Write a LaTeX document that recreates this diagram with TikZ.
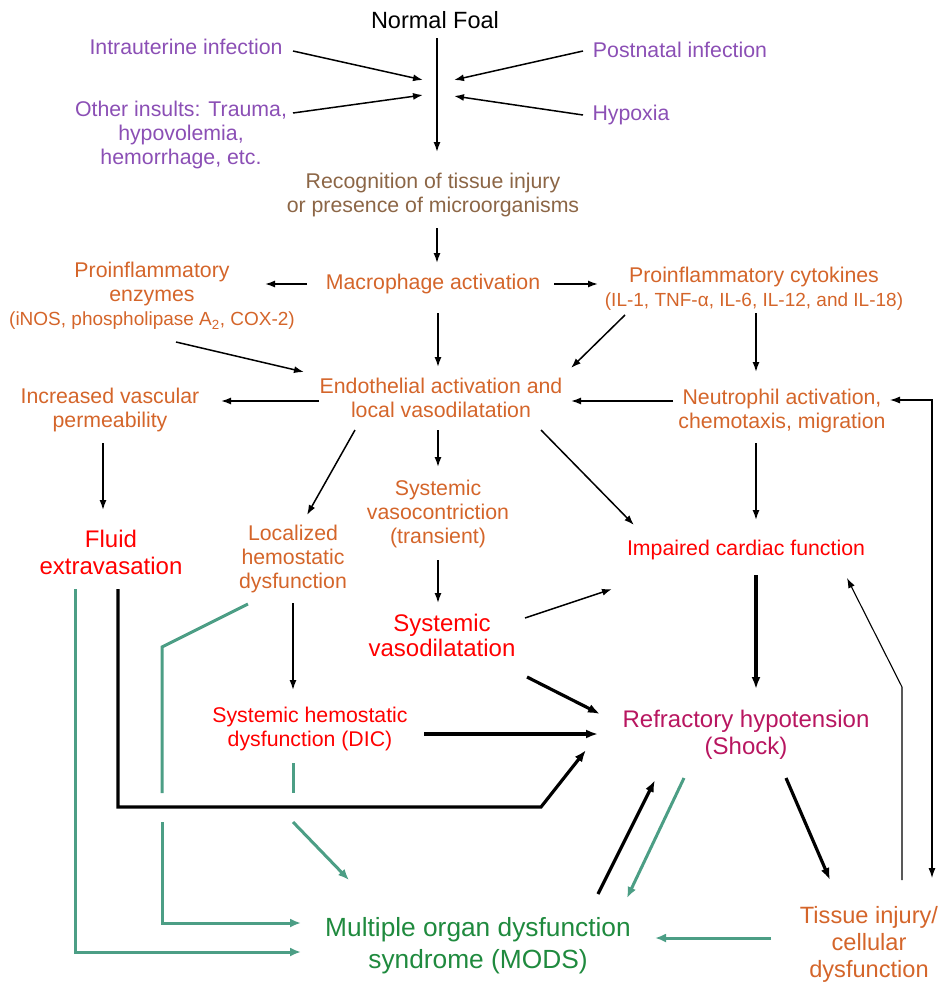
\documentclass[tikz,border=0pt]{standalone}
\usepackage{fontspec}
\setmainfont{Liberation Sans}
\usetikzlibrary{arrows.meta,calc}
\definecolor{cpurple}{HTML}{8B4FB5}
\definecolor{cbrown}{HTML}{8C6646}
\definecolor{corange}{HTML}{D4652A}
\definecolor{cred}{HTML}{FF0000}
\definecolor{ccrim}{HTML}{B81660}
\definecolor{cgtext}{HTML}{1F8A3E}
\definecolor{cgline}{HTML}{4C9E85}
\tikzset{
  txt/.style={align=center, inner sep=0pt, font=\fontsize{21.3}{24}\selectfont},
  bigtxt/.style={align=center, inner sep=0pt, font=\fontsize{24}{26.5}\selectfont},
  arr/.style={draw=black, line width=1.5pt, -{Latex[length=10pt,width=7pt]}},
  tarr/.style={draw=black, line width=3.2pt, -{Latex[length=12pt,width=9pt]}},
  slim/.style={draw=black, line width=1.1pt, -{Latex[length=10pt,width=7pt]}},
  garr/.style={draw=cgline, line width=3pt, -{Latex[length=11pt,width=9pt]}},
  gline/.style={draw=cgline, line width=3pt},
}
\begin{document}
\begin{tikzpicture}[x=1pt,y=-1pt]
\useasboundingbox (0,0) rectangle (943,983);
% nodes
\node[txt, font=\fontsize{23.5}{26}\selectfont] (nf) at (435,20) {Normal Foal};
\node[txt, text=cpurple] (intra) at (186,47) {Intrauterine infection};
\node[txt, text=cpurple] (post) at (680,50) {Postnatal infection};
\node[txt, text=cpurple] (other) at (181,135) {Other insults: Trauma,\\hypovolemia,\\hemorrhage, etc.};
\node[txt, text=cpurple] (hyp) at (631,115) {Hypoxia};
\node[txt, text=cbrown] (rec) at (433,195) {Recognition of tissue injury\\or presence of microorganisms};
\node[txt, text=corange] (mac) at (433,284) {Macrophage activation};
\node[txt, text=corange] (enz) at (152,296) {Proinflammatory\\enzymes\\{\fontsize{19}{24}\selectfont (iNOS, phospholipase A\textsubscript{2}, COX-2)}};
\node[txt, text=corange] (cyt) at (754,289) {Proinflammatory cytokines\\{\fontsize{19}{24}\selectfont (IL-1, TNF-α, IL-6, IL-12, and IL-18)}};
\node[txt, text=corange] (endo) at (441,398) {Endothelial activation and\\local vasodilatation};
\node[txt, text=corange] (ivp) at (110,410) {Increased vascular\\permeability};
\node[txt, text=corange] (neu) at (782,411) {Neutrophil activation,\\chemotaxis, migration};
\node[bigtxt, text=cred, font=\fontsize{24}{27}\selectfont] (fluid) at (111,552) {Fluid\\extravasation};
\node[txt, text=corange] (loc) at (293,559) {Localized\\hemostatic\\dysfunction};
\node[txt, text=corange] (svc) at (438,514) {Systemic\\vasocontriction\\(transient)};
\node[bigtxt, text=cred, font=\fontsize{24}{25}\selectfont] (svd) at (442,635) {Systemic\\vasodilatation};
\node[txt, text=cred] (icf) at (746,550) {Impaired cardiac function};
\node[txt, text=cred] (dic) at (310,729) {Systemic hemostatic\\dysfunction (DIC)};
\node[bigtxt, text=ccrim] (ref) at (746,735) {Refractory hypotension\\(Shock)};
\node[bigtxt, text=cgtext, font=\fontsize{26.3}{32}\selectfont] (mods) at (478,946) {Multiple organ dysfunction\\syndrome (MODS)};
\node[bigtxt, text=corange, font=\fontsize{23.6}{27}\selectfont] (tis) at (869,944) {Tissue injury/\\cellular\\dysfunction};
% junction coordinates on the main vertical line
\coordinate (ja) at (423,80);
\coordinate (jb) at (454,80);
\coordinate (jc) at (423,95);
\coordinate (jd) at (454,96);
\coordinate (k1) at (541,807);
\coordinate (k2) at (902,687);
\coordinate (g1) at (162,647);
\coordinate (g2) at (162,793);
\coordinate (g3) at (162,822);
\coordinate (g4) at (293,793);
\coordinate (g5) at (293,822);
% connectors
\draw[arr] ([shift={(2,18)}]nf.center) -- ([shift={(4,-43)}]rec.center);
\draw[arr] ([shift={(107,4)}]intra.center) -- (ja);
\draw[arr] ([shift={(-97,1)}]post.center) -- (jb);
\draw[arr] ([shift={(112,-22)}]other.center) -- (jc);
\draw[arr] ([shift={(-48,0)}]hyp.center) -- (jd);
\draw[arr] ([shift={(4,33)}]rec.center) -- ([shift={(4,-21)}]mac.center);
\draw[arr] ([shift={(-126,0)}]mac.center) -- ([shift={(113,-12)}]enz.center);
\draw[arr] ([shift={(121,0)}]mac.center) -- ([shift={(-156,-5)}]cyt.center);
\draw[arr] ([shift={(5,29)}]mac.center) -- ([shift={(-3,-31)}]endo.center);
\draw[arr] ([shift={(24,46)}]enz.center) -- ([shift={(-137,-26)}]endo.center);
\draw[arr] ([shift={(-129,26)}]cyt.center) -- ([shift={(130,-30)}]endo.center);
\draw[arr] ([shift={(2,24)}]cyt.center) -- ([shift={(-26,-39)}]neu.center);
\draw[arr] ([shift={(-122,3)}]endo.center) -- ([shift={(111,-9)}]ivp.center);
\draw[arr] ([shift={(-109,-10)}]neu.center) -- ([shift={(130,3)}]endo.center);
\draw[arr] ([shift={(-7,33)}]ivp.center) -- ([shift={(-8,-42)}]fluid.center);
\draw[arr] ([shift={(-86,32)}]endo.center) -- ([shift={(14,-44)}]loc.center);
\draw[arr] ([shift={(-3,32)}]endo.center) -- ([shift={(0,-47)}]svc.center);
\draw[arr] ([shift={(100,32)}]endo.center) -- ([shift={(-112,-25)}]icf.center);
\draw[arr] ([shift={(-26,32)}]neu.center) -- ([shift={(10,-30)}]icf.center);
\draw[arr] ([shift={(0,46)}]svc.center) -- ([shift={(-4,-32)}]svd.center);
\draw[arr] ([shift={(83,-17)}]svd.center) -- ([shift={(-134,39)}]icf.center);
\draw[tarr] ([shift={(10,25)}]icf.center) -- ([shift={(10,-46)}]ref.center);
\draw[arr] ([shift={(0,44)}]loc.center) -- ([shift={(-17,-39)}]dic.center);
\draw[tarr] ([shift={(85,42)}]svd.center) -- ([shift={(-146,-21)}]ref.center);
\draw[tarr] ([shift={(114,5)}]dic.center) -- ([shift={(-148,-1)}]ref.center);
\draw[tarr, line join=miter] ([shift={(7,37)}]fluid.center) |- (k1) -- ([shift={(-160,15)}]ref.center);
% green connectors
\draw[garr, line join=miter] ([shift={(-36,37)}]fluid.center) |- ([shift={(-177,6)}]mods.center);
\draw[gline, line join=miter] ([shift={(-45,45)}]loc.center) -- (g1) -- (g2);
\draw[garr, line join=miter] (g3) |- ([shift={(-177,-23)}]mods.center);
\draw[gline] ([shift={(-17,34)}]dic.center) -- (g4);
\draw[garr] (g5) -- ([shift={(-129,-66)}]mods.center);
\draw[tarr] ([shift={(120,-52)}]mods.center) -- ([shift={(-91,45)}]ref.center);
\draw[garr] ([shift={(-62,43)}]ref.center) -- ([shift={(149,-48)}]mods.center);
\draw[tarr] ([shift={(40,43)}]ref.center) -- ([shift={(-39,-64)}]tis.center);
\draw[garr] ([shift={(-98,-6)}]tis.center) -- ([shift={(177,-8)}]mods.center);
% right-hand thin connectors
\draw[slim] ([shift={(33,-64)}]tis.center) -- (k2) -- ([shift={(101,28)}]icf.center);
\draw[slim, {Latex[length=10pt,width=7pt]}-{Latex[length=10pt,width=7pt]}] ([shift={(108,-11)}]neu.center) -| ([shift={(63,-66)}]tis.center);
\end{tikzpicture}
\end{document}
